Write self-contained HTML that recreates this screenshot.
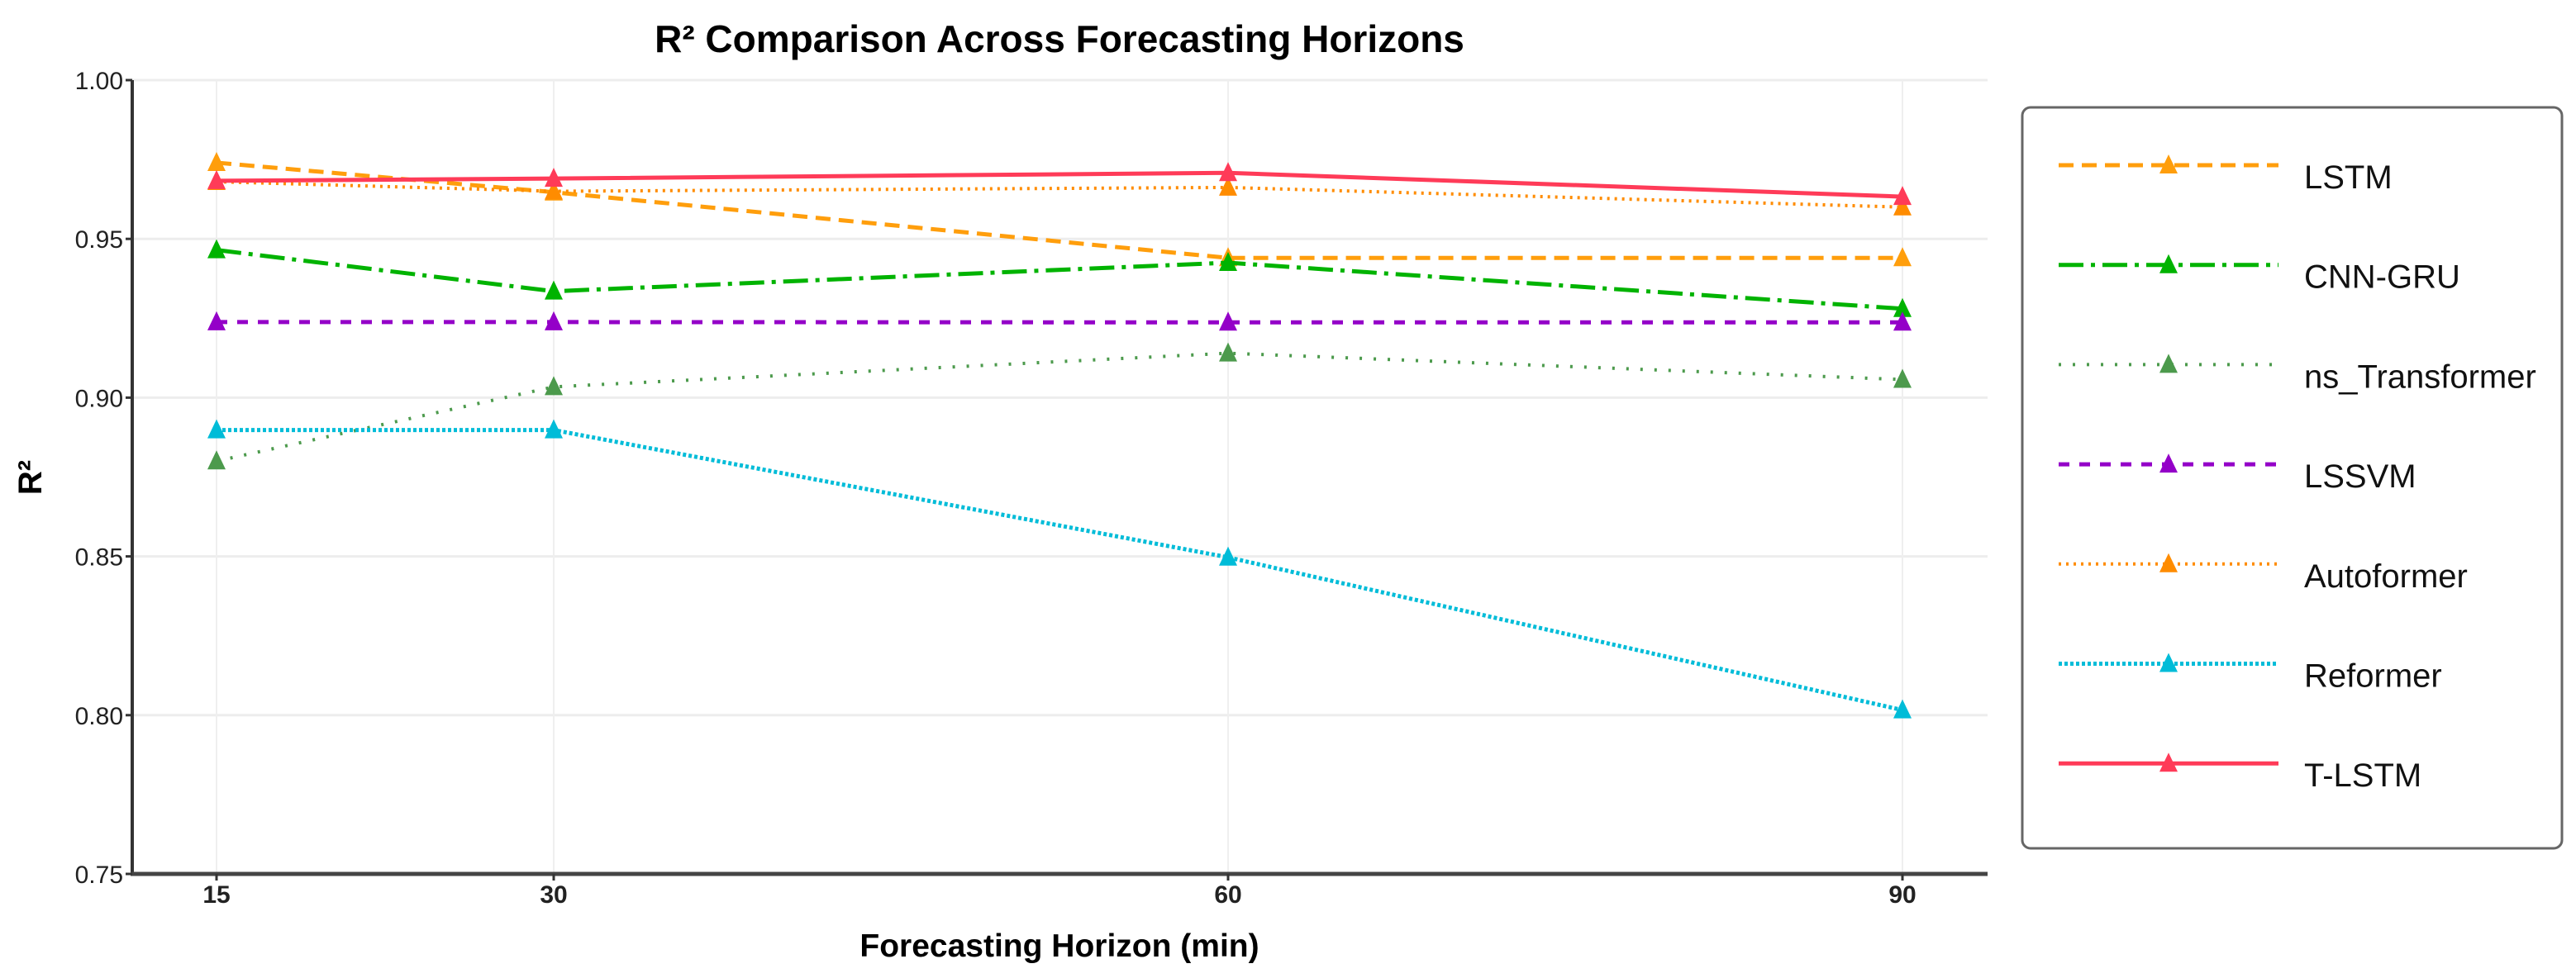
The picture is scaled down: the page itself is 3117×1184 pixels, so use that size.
<!DOCTYPE html>
<html><head><meta charset="utf-8"><style>
html,body{margin:0;padding:0;background:#fff;}
svg{display:block;font-family:"Liberation Sans",Arial,sans-serif;}
</style></head><body>
<svg id="chart" width="3117" height="1184" viewBox="0 0 3117 1184">
<text x="1282" y="63" text-anchor="middle" font-size="46" font-weight="bold">R² Comparison Across Forecasting Horizons</text>
<text x="0" y="0" transform="translate(50,578) rotate(-90)" text-anchor="middle" font-size="40" font-weight="bold">R²</text>
<text x="1282" y="1158" text-anchor="middle" font-size="39" font-weight="bold">Forecasting Horizon (min)</text>
<g id="grid"></g>
<g id="axes"></g>
<g id="series"></g>
<g id="legend"></g>
</svg>
<script>
const horizons = [15, 30, 60, 90];
const xTicks = [15, 30, 60, 90];
const yTicks = [0.75, 0.80, 0.85, 0.90, 0.95, 1.00];
const yTickLabels = ["0.75", "0.80", "0.85", "0.90", "0.95", "1.00"];
const seriesNames = ["LSTM", "CNN-GRU", "ns_Transformer", "LSSVM", "Autoformer", "Reformer", "T-LSTM"];
const lstmValues = [0.974, 0.9647, 0.944, 0.944];
const cnnGruValues = [0.9465, 0.9335, 0.9425, 0.928];
const nsTransformerValues = [0.880, 0.9034, 0.914, 0.9057];
const lssvmValues = [0.9238, 0.9238, 0.9237, 0.9237];
const autoformerValues = [0.968, 0.965, 0.9662, 0.960];
const reformerValues = [0.8898, 0.8898, 0.8497, 0.8016];
const tlstmValues = [0.9683, 0.969, 0.9708, 0.9633];

const NS = "http://www.w3.org/2000/svg";
const X0 = 160, X1 = 2405, Y0 = 1058, Y1 = 97;
function xScale(m){ return 262 + (m - 15) / 15 * 408; }
function yScale(v){ return Y0 - (v - 0.75) / 0.25 * (Y0 - Y1); }
function mk(tag, attrs, parent){ const e = document.createElementNS(NS, tag); for (const k in attrs) e.setAttribute(k, attrs[k]); parent.appendChild(e); return e; }

const styles = [
 {c:"#FF9E0C", d:"18 10", w:5},
 {c:"#00B300", d:"30 9 5 9", w:5},
 {c:"#4C9A4C", d:"3 14", w:4},
 {c:"#9400C8", d:"13 12", w:5},
 {c:"#FF8C00", d:"3 6", w:4},
 {c:"#00BCD8", d:"4 3", w:5},
 {c:"#FF3B58", d:"", w:5}
];
const allValues = [lstmValues, cnnGruValues, nsTransformerValues, lssvmValues, autoformerValues, reformerValues, tlstmValues];

const grid = document.getElementById('grid');
yTicks.forEach((t,i)=>{
  if (i>0){ const g = mk('line',{x1:X0,x2:X1,y1:yScale(t),y2:yScale(t),stroke:'#ededed','stroke-width':3},grid);
  
   }
});
xTicks.forEach(t=>{
  const g = mk('line',{x1:xScale(t),x2:xScale(t),y1:Y1,y2:Y0,stroke:'#efefef','stroke-width':2},grid);
  
  
});

const axes = document.getElementById('axes');
const ya = mk('line',{x1:X0,x2:X0,y1:Y1,y2:Y0+2,stroke:'#333','stroke-width':4},axes);


const xa = mk('line',{x1:X0-2,x2:X1,y1:Y0,y2:Y0,stroke:'#444','stroke-width':5},axes);


yTicks.forEach((t,i)=>{
  mk('line',{x1:X0-8,x2:X0,y1:yScale(t),y2:yScale(t),stroke:'#333','stroke-width':3},axes);
  const tx = mk('text',{x:X0-11,y:yScale(t)+11,'text-anchor':'end','font-size':30,fill:'#222'},axes);
  tx.textContent = yTickLabels[i];
  
  
});
xTicks.forEach(t=>{
  mk('line',{x1:xScale(t),x2:xScale(t),y1:Y0,y2:Y0+8,stroke:'#333','stroke-width':3},axes);
  const tx = mk('text',{x:xScale(t),y:Y0+35,'text-anchor':'middle','font-size':30,'font-weight':'bold',fill:'#222'},axes);
  tx.textContent = String(t);
  
  
});

function tri(cx, cy, color, parent){
  const s = 11;
  return mk('polygon',{points:`${cx},${cy-s-2} ${cx-s},${cy+s-1} ${cx+s},${cy+s-1}`,fill:color},parent);
}

const sg = document.getElementById('series');
allValues.forEach((vals, si)=>{
  const st = styles[si];
  const g = mk('g',{},sg);
  
  
  const pts = vals.map((v,i)=>xScale(horizons[i])+','+yScale(v)).join(' ');
  const pl = mk('polyline',{points:pts,fill:'none',stroke:st.c,'stroke-width':st.w,'stroke-dasharray':st.d,'stroke-linejoin':'round'},g);
  
  
  vals.forEach((v,i)=>{
    const m = tri(xScale(horizons[i]), yScale(v), st.c, g);
    
    
  });
});

const lg = document.getElementById('legend');
const box = mk('rect',{x:2447,y:130,width:653,height:897,rx:10,ry:10,fill:'#fff',stroke:'#666','stroke-width':3},lg);


seriesNames.forEach((n,i)=>{
  const st = styles[i];
  const y = 200 + i*120.7;
  const g = mk('g',{},lg);
  
  
  mk('line',{x1:2491,x2:2757,y1:y,y2:y,stroke:st.c,'stroke-width':st.w,'stroke-dasharray':st.d},g);
  tri(2624, y, st.c, g);
  const t = mk('text',{x:2788,y:y+28,'font-size':40,fill:'#111'},g);
  t.textContent = n;
});
</script>
</body></html>
